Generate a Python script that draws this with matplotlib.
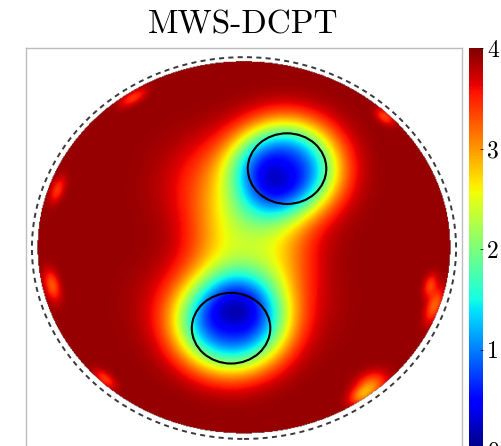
import numpy as np
import matplotlib
matplotlib.use("Agg")
import matplotlib.pyplot as plt
from matplotlib.patches import Circle

# Reconstructed conductivity map on the unit disk
background_level = 3.92
domain_radius = 0.975

# Low-conductivity blobs: centre x, centre y, width x, width y, depth, shape exponent
blob_x = [0.20, -0.06, 0.03, 0.03, -0.05]
blob_y = [0.42, -0.42, -0.02, 0.32, -0.30]
blob_sx = [0.25, 0.26, 0.27, 0.32, 0.32]
blob_sy = [0.25, 0.25, 0.30, 0.26, 0.24]
blob_depth = [2.75, 2.55, 1.15, 1.0, 1.0]
blob_power = [1.4, 1.4, 1.3, 1.2, 1.2]

# Reconstruction artefacts close to the boundary: position, tangential / radial size, depth
spot_x = [0.665, 0.90, 0.60, -0.906, -0.656, -0.524, -0.882, 0.88, 0.55]
spot_y = [0.684, -0.305, -0.726, -0.20, -0.69, 0.784, 0.30, -0.20, -0.78]
spot_len = [0.05, 0.09, 0.08, 0.08, 0.06, 0.07, 0.07, 0.06, 0.06]
spot_wid = [0.03, 0.035, 0.06, 0.035, 0.03, 0.03, 0.03, 0.03, 0.04]
spot_depth = [0.55, 0.7, 0.8, 0.65, 0.5, 0.5, 0.5, 0.55, 0.6]

# True inclusions: centre x, centre y, radius
incl_x = [0.203, -0.061]
incl_y = [0.416, -0.420]
incl_r = [0.185, 0.185]

cbar_ticks = [0, 1, 2, 3, 4]
title_text = "MWS-DCPT"

n = 500
xs = np.linspace(-1.05, 1.05, n)
X, Y = np.meshgrid(xs, xs)
Z = np.full_like(X, background_level)
for cx, cy, sx, sy, dep, p in zip(blob_x, blob_y, blob_sx, blob_sy, blob_depth, blob_power):
    q = ((X - cx) / sx) ** 2 + ((Y - cy) / sy) ** 2
    Z -= dep * np.exp(-q ** p)
for cx, cy, sl, sw, dep in zip(spot_x, spot_y, spot_len, spot_wid, spot_depth):
    ang = np.arctan2(cy, cx)
    ur, ut = np.array([np.cos(ang), np.sin(ang)]), np.array([-np.sin(ang), np.cos(ang)])
    dr = (X - cx) * ur[0] + (Y - cy) * ur[1]
    dt = (X - cx) * ut[0] + (Y - cy) * ut[1]
    Z -= dep * np.exp(-((dt / sl) ** 2 + (dr / sw) ** 2))
Z = np.clip(Z, 0.05, 4)
Z = np.ma.masked_where(X ** 2 + Y ** 2 > domain_radius ** 2, Z)

W, H = 502, 446
fig = plt.figure(figsize=(W / 100, H / 100), dpi=100)
ax = fig.add_axes([26 / W, -4 / H, 436 / W, 402 / H])
im = ax.imshow(Z, extent=[xs[0], xs[-1], xs[0], xs[-1]], origin="lower",
               cmap="jet", vmin=0, vmax=4, interpolation="bilinear", aspect="auto")
ax.set_xlim(-1.028, 1.028)
ax.set_ylim(-1.058, 1.048)
ax.set_xticks([])
ax.set_yticks([])
for sp in ax.spines.values():
    sp.set_edgecolor("#bdbdbd")
    sp.set_linewidth(1.0)

ax.add_patch(Circle((0, 0), 1.0, fill=False, ec="#3a3a3a", lw=1.4,
                    ls=(0, (2.6, 2.2))))
for cx, cy, r in zip(incl_x, incl_y, incl_r):
    ax.add_patch(Circle((cx, cy), r, fill=False, ec="black", lw=1.5))

fig.text(243 / W, 1 - 25 / H, title_text, family="cmr10", fontsize=24,
         ha="center", va="center")

cax = fig.add_axes([469 / W, -4 / H, 14 / W, 402 / H])
cb = fig.colorbar(im, cax=cax, ticks=cbar_ticks)
cb.outline.set_visible(False)
cb.ax.tick_params(length=2, width=0.5, labelsize=17, pad=3, direction="in")
for lab in cb.ax.get_yticklabels():
    lab.set_family("cmr10")

fig.savefig("out.png", dpi=100)
